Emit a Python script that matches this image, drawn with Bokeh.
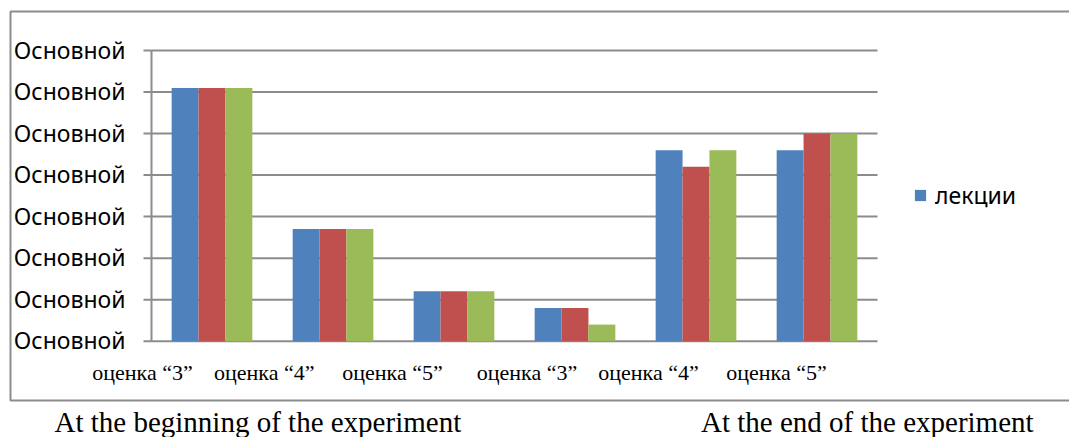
from bokeh.plotting import figure
from bokeh.models import (ColumnDataSource, Legend, LegendItem, Range1d)
from bokeh.core.properties import value
from bokeh.embed import file_html
from bokeh.resources import INLINE

# ---- data ----
categories = ["оценка “3”", "оценка “4”", "оценка “5”",
              "оценка “3”", "оценка “4”", "оценка “5”"]
series_names = ["лекции", "ряд 2", "ряд 3"]
series1 = [6.1, 2.7, 1.2, 0.8, 4.6, 4.6]
series2 = [6.1, 2.7, 1.2, 0.8, 4.2, 5.0]
series3 = [6.1, 2.7, 1.2, 0.4, 4.6, 5.0]
ytick_values = [0, 1, 2, 3, 4, 5, 6, 7]
ytick_labels = ["Основной"] * 8
captions = ["At the beginning of the experiment", "At the end of the experiment"]

# ---- styling / layout (pixels on the canvas) ----
colors = ["#4F81BD", "#C0504D", "#9BBB59"]
grid_color = "#8c8c8c"
W, H = 1069, 437
PL, PR, PT, PB = 151, 877, 50, 340.7     # plot area edges
n = len(categories)
ymax = 7
px_x = (PR - PL) / n
px_y = (PB - PT) / ymax

def dx(px):  # canvas x -> data x
    return (px - PL) / px_x

def dy(py):  # canvas y -> data y
    return (PB - py) / px_y

p = figure(width=W, height=H, output_backend="svg", toolbar_location=None,
           x_range=Range1d(dx(0), dx(W)), y_range=Range1d(dy(H), dy(0)),
           x_axis_location=None, y_axis_location=None,
           min_border=0)
p.outline_line_color = None
p.grid.visible = False
p.background_fill_color = "white"
p.border_fill_color = "white"

# outer frame box (left, top, bottom edges)
p.line(x=[dx(W + 20), dx(10), dx(10), dx(W + 20)],
       y=[dy(11), dy(11), dy(400), dy(400)],
       line_color=grid_color, line_width=2)

# gridlines
gsrc = ColumnDataSource(dict(y=ytick_values))
p.segment(x0=0, x1=n, y0="y", y1="y", source=gsrc,
          line_color=grid_color, line_width=2)
# ticks
p.segment(x0=-8 / px_x, x1=0, y0="y", y1="y", source=gsrc,
          line_color=grid_color, line_width=2)

# bars
xc = [i + 0.5 for i in range(n)]
bw = 1 / 4.5
renderers = []
for k, vals in enumerate([series1, series2, series3]):
    src = ColumnDataSource(dict(x=[c + (k - 1) * bw for c in xc], top=vals))
    r = p.vbar(x="x", top="top", width=bw, bottom=0, source=src,
               fill_color=colors[k], line_color=None)
    renderers.append(r)

# axis line
p.segment(x0=0, x1=0, y0=0, y1=ymax, line_color=grid_color, line_width=2)

# y tick labels
ysrc = ColumnDataSource(dict(y=ytick_values, text=ytick_labels))
p.text(x=0, y="y", text="text", source=ysrc, x_offset=-26, y_offset=-1,
       text_align="right", text_baseline="middle",
       text_font=value("Noto Sans"), text_font_size="23px", text_color="black")

# category labels below axis (shifted left as in original)
label_shift = [-69.5, -68.8, -61.5, -48, -47.5, -40.5]
lsrc = ColumnDataSource(dict(x=xc, y=[0] * n, text=categories, dxo=label_shift))
p.text(x="x", y="y", text="text", source=lsrc, x_offset="dxo", y_offset=31,
       text_align="center", text_baseline="middle",
       text_font=value("Liberation Serif"), text_font_size="22px",
       text_color="black")

# captions
csrc = ColumnDataSource(dict(x=[dx(54), dx(700.5)], y=[dy(421)] * 2, text=captions))
p.text(x="x", y="y", text="text", source=csrc, text_align="left",
       text_baseline="middle", text_font=value("Liberation Serif"),
       text_font_size="29px", text_color="black")

legend = Legend(items=[LegendItem(label=series_names[0], renderers=[renderers[0]])],
                location=(913, 226), padding=0, margin=0, spacing=0,
                glyph_width=14, glyph_height=14, label_height=14, label_standoff=8,
                label_text_font="Noto Sans", label_text_font_size="23px",
                label_text_color="black", border_line_color=None,
                background_fill_alpha=0)
p.add_layout(legend, "center")

open("out.html", "w").write(file_html(p, INLINE))
